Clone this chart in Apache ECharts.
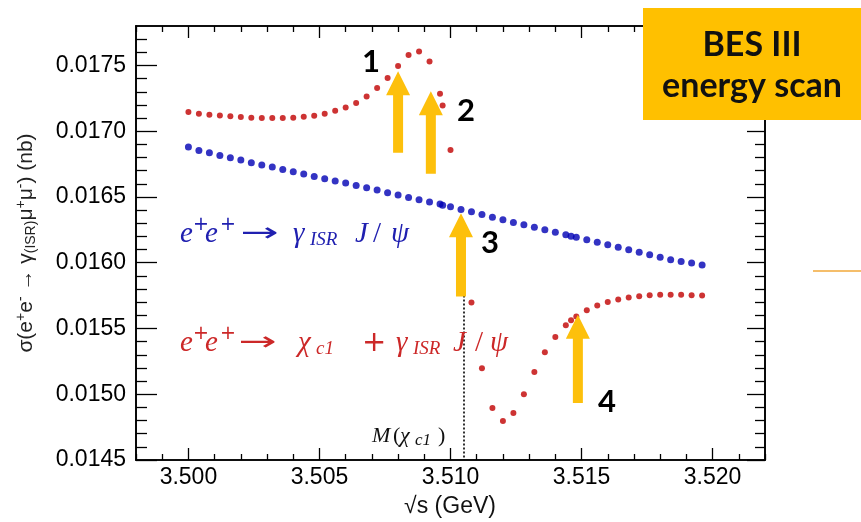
<!DOCTYPE html>
<html>
<head>
<meta charset="utf-8">
<script src="https://cdn.jsdelivr.net/npm/echarts@6/dist/echarts.min.js"></script>
<style>
  html, body { margin: 0; padding: 0; background: #fff; }
  #chart { width: 861px; height: 522px; }
</style>
</head>
<body>
<div id="chart"></div>
<script>
// sqrt(s) scan points (GeV) and cross sections (nb)
const isrEnergy = [
  3.5000, 3.5004, 3.5008, 3.5012, 3.5016, 3.5020, 3.5024, 3.5028, 3.5032, 3.5036,
  3.5040, 3.5044, 3.5048, 3.5052, 3.5056, 3.5060, 3.5064, 3.5068, 3.5072, 3.5076,
  3.5080, 3.5084, 3.5088, 3.5092, 3.5096, 3.5097, 3.5100, 3.5104, 3.5108, 3.5112,
  3.5116, 3.5120, 3.5124, 3.5128, 3.5132, 3.5136, 3.5140, 3.5144, 3.5146, 3.5148,
  3.5152, 3.5156, 3.5160, 3.5164, 3.5168, 3.5172, 3.5176, 3.5180, 3.5184, 3.5188,
  3.5192, 3.5196
];
const isrXsec = [
  0.016880, 0.016854, 0.016836, 0.016816, 0.016798, 0.016781, 0.016760, 0.016743, 0.016728, 0.016709,
  0.016692, 0.016674, 0.016656, 0.016639, 0.016621, 0.016606, 0.016588, 0.016570, 0.016553, 0.016532,
  0.016515, 0.016496, 0.016479, 0.016461, 0.016446, 0.016437, 0.016425, 0.016405, 0.016387, 0.016367,
  0.016345, 0.016326, 0.016306, 0.016288, 0.016269, 0.016250, 0.016231, 0.016212, 0.016201, 0.016193,
  0.016174, 0.016155, 0.016136, 0.016117, 0.016098, 0.016079, 0.016060, 0.016041, 0.016022, 0.016009,
  0.015997, 0.015982
];
const chiEnergy = [
  3.5000, 3.5004, 3.5008, 3.5012, 3.5016, 3.5020, 3.5024, 3.5028, 3.5032, 3.5036,
  3.5040, 3.5044, 3.5048, 3.5052, 3.5056, 3.5060, 3.5064, 3.5068, 3.5072, 3.5076,
  3.5080, 3.5084, 3.5088, 3.5092, 3.5096, 3.5097, 3.5100, 3.5108, 3.5112, 3.5116,
  3.5120, 3.5124, 3.5128, 3.5132, 3.5136, 3.5140, 3.5144, 3.5146, 3.5148, 3.5152,
  3.5156, 3.5160, 3.5164, 3.5168, 3.5172, 3.5176, 3.5180, 3.5184, 3.5188, 3.5192,
  3.5196
];
const chiXsec = [
  0.017146, 0.017133, 0.017126, 0.017120, 0.017113, 0.017108, 0.017103, 0.017100, 0.017100, 0.017100,
  0.017103, 0.017110, 0.017118, 0.017133, 0.017156, 0.017181, 0.017215, 0.017263, 0.017329, 0.017405,
  0.017496, 0.017580, 0.017607, 0.017531, 0.017285, 0.017196, 0.016857, 0.015697, 0.015198, 0.014896,
  0.014797, 0.014858, 0.015000, 0.015170, 0.015320, 0.015436, 0.015525, 0.015563, 0.015591, 0.015639,
  0.015674, 0.015702, 0.015720, 0.015735, 0.015746, 0.015753, 0.015756, 0.015756, 0.015756, 0.015753,
  0.015750
];

// axis ticks
const xMajorTicks = [3.500, 3.505, 3.510, 3.515, 3.520];
const xMinorTicks = [3.498, 3.499, 3.501, 3.502, 3.503, 3.504, 3.506, 3.507, 3.508, 3.509,
  3.511, 3.512, 3.513, 3.514, 3.516, 3.517, 3.518, 3.519, 3.521, 3.522];
const yMajorTicks = [0.0145, 0.0150, 0.0155, 0.0160, 0.0165, 0.0170, 0.0175];
const yMinorTicks = [0.0146, 0.0147, 0.0148, 0.0149, 0.0151, 0.0152, 0.0153, 0.0154,
  0.0156, 0.0157, 0.0158, 0.0159, 0.0161, 0.0162, 0.0163, 0.0164, 0.0166, 0.0167, 0.0168, 0.0169,
  0.0171, 0.0172, 0.0173, 0.0174, 0.0176, 0.0177];

// chi_c1 mass marker and scan-point arrows (energy, tip, tail)
const chiMass = 3.5105;
const chiMassLineTop = 0.01575;
const arrowEnergy = [3.5080, 3.50925, 3.5104, 3.51486];
const arrowTip = [0.017455, 0.017303, 0.016377, 0.015604];
const arrowTail = [0.016836, 0.016677, 0.015743, 0.014934];
const arrowNames = ['1', '2', '3', '4'];

const X_MIN = 3.498, X_MAX = 3.522, Y_MIN = 0.0145, Y_MAX = 0.0178;
const BLUE = '#0000b4', RED = '#c00000', GOLD = '#FFC000';
const AXIS_FONT = 'Liberation Sans, Arial, sans-serif';

function xAxisDef(position, ticks, len, withLabels) {
  return {
    type: 'value', min: X_MIN, max: X_MAX, position: position, offset: 0,
    axisLine: { show: true, onZero: false, lineStyle: { color: '#000', width: 1.6 } },
    axisTick: { show: true, inside: true, length: len, customValues: ticks,
      lineStyle: { color: '#000', width: 1.3 } },
    axisLabel: withLabels ? {
      show: true, customValues: xMajorTicks, margin: 6, color: '#000',
      fontFamily: AXIS_FONT, fontSize: 23, formatter: v => v.toFixed(3)
    } : { show: false },
    splitLine: { show: false }
  };
}
function yAxisDef(position, ticks, len, withLabels) {
  return {
    type: 'value', min: Y_MIN, max: Y_MAX, position: position, offset: 0,
    axisLine: { show: true, onZero: false, lineStyle: { color: '#000', width: 1.6 } },
    axisTick: { show: true, inside: true, length: len, customValues: ticks,
      lineStyle: { color: '#000', width: 1.3 } },
    axisLabel: withLabels ? {
      show: true, customValues: yMajorTicks, margin: 10, color: '#000',
      fontFamily: AXIS_FONT, fontSize: 23, formatter: v => v.toFixed(4)
    } : { show: false },
    splitLine: { show: false }
  };
}

const chart = echarts.init(document.getElementById('chart'), null, { renderer: 'canvas' });

chart.setOption({
  animation: false,
  backgroundColor: '#fff',
  grid: { left: 136, right: 96, top: 26, bottom: 62 },
  xAxis: [
    xAxisDef('bottom', xMajorTicks, 12, true),
    xAxisDef('bottom', xMinorTicks, 6, false),
    xAxisDef('top', xMajorTicks, 12, false),
    xAxisDef('top', xMinorTicks, 6, false)
  ],
  yAxis: [
    yAxisDef('left', yMajorTicks, 21, true),
    yAxisDef('left', yMinorTicks, 11, false),
    yAxisDef('right', yMajorTicks, 18, false),
    yAxisDef('right', yMinorTicks, 10, false)
  ],
  series: [
    {
      name: 'ISR J/psi', type: 'scatter', xAxisIndex: 0, yAxisIndex: 0,
      symbol: 'circle', symbolSize: 7, itemStyle: { color: BLUE },
      data: isrEnergy.map((e, i) => [e, isrXsec[i]])
    },
    {
      name: 'chi_c1 + ISR J/psi', type: 'scatter', xAxisIndex: 0, yAxisIndex: 0,
      symbol: 'circle', symbolSize: 6, itemStyle: { color: RED },
      data: chiEnergy.map((e, i) => [e, chiXsec[i]]),
      markLine: {
        silent: true, symbol: ['none', 'none'], label: { show: false },
        lineStyle: { type: [2, 2], color: '#000', width: 1.6 },
        data: [[{ coord: [chiMass, chiMassLineTop] }, { coord: [chiMass, Y_MIN] }]]
      }
    }
  ]
});

// ---- overlay annotations ----
function px(e, v) { return chart.convertToPixel({ xAxisIndex: 0, yAxisIndex: 0 }, [e, v]); }

function arrowShape(i) {
  const tip = px(arrowEnergy[i], arrowTip[i]);
  const tail = px(arrowEnergy[i], arrowTail[i]);
  const hw = 12, hh = 24, sw = 5;
  const x = tip[0], y = tip[1];
  return {
    type: 'polygon', z: 100,
    shape: { points: [[x, y], [x + hw, y + hh], [x + sw, y + hh], [x + sw, tail[1]],
      [x - sw, tail[1]], [x - sw, y + hh], [x - hw, y + hh]] },
    style: { fill: '#FDC00C' }
  };
}

// formula built from glyph pieces: [dx, text, kind]
const SERIF = 'Liberation Serif, serif';
function formula(x0, cy, color, size, subRatio, pieces) {
  const subSize = Math.round(size * subRatio);
  return pieces.map(p => {
    const kind = p[2];
    const el = {
      type: 'text', z: 100, x: x0 + p[0], y: cy,
      style: { text: p[1], fill: color, align: 'left', verticalAlign: 'middle',
        fontFamily: SERIF, fontStyle: 'italic', fontSize: size }
    };
    if (kind === 'sup') {
      el.y = cy - size * 0.32; el.style.fontSize = subSize; el.style.fontStyle = 'normal';
      el.style.fontFamily = 'DejaVu Sans, sans-serif';
    }
    if (kind === 'sub') { el.y = cy + size * 0.21; el.style.fontSize = subSize; }
    if (kind === 'up') { el.style.fontStyle = 'normal'; }
    if (kind === 'op') { el.style.fontStyle = 'normal'; el.style.fontFamily = 'DejaVu Sans, sans-serif'; }
    if (kind === 'arrow') {
      el.style.fontStyle = 'normal'; el.style.fontFamily = 'DejaVu Sans, sans-serif';
      el.style.fontSize = size * 0.9;
      el.scaleX = 1.75; el.originX = 0; el.originY = 0;
    }
    return el;
  });
}

const graphics = [];
for (let i = 0; i < arrowEnergy.length; i++) graphics.push(arrowShape(i));

const numberPos = [[371, 62], [466, 111], [490, 243], [607, 402]];
arrowNames.forEach((n, i) => graphics.push({
  type: 'text', z: 101, x: numberPos[i][0], y: numberPos[i][1],
  style: { text: n, fill: '#000', align: 'center', verticalAlign: 'middle',
    fontFamily: 'Lato, sans-serif', fontWeight: 'bold', fontSize: 31 }
}));

// reaction labels
graphics.push(...formula(180, 234, '#2020b0', 29, 0.66, [
  [0, 'e'], [13, '+', 'sup'], [25, 'e'], [40, '+', 'sup'], [60, '\u2192', 'arrow'],
  [113, '\u03b3'], [130, 'ISR', 'sub'], [175, 'J'], [193, '/', 'up'], [211, '\u03c8']
]));
graphics.push(...formula(180, 343, '#cc2828', 29, 0.66, [
  [0, 'e'], [13, '+', 'sup'], [25, 'e'], [40, '+', 'sup'], [58, '\u2192', 'arrow'],
  [118, '\u03c7'], [136, 'c1', 'sub'], [182, '+', 'op'], [216, '\u03b3'], [233, 'ISR', 'sub'],
  [273, 'J'], [295, '/', 'up'], [310, '\u03c8']
]));
graphics.push(...formula(372, 436, '#111', 22, 0.75, [
  [0, 'M'], [21, '(', 'up'], [28, '\u03c7'], [43, 'c1', 'sub'], [66, ')', 'up']
]));

// axis titles
graphics.push({
  type: 'text', z: 100, x: 450, y: 507,
  style: { text: '\u221As (GeV)', fill: '#111', align: 'center', verticalAlign: 'middle',
    fontFamily: AXIS_FONT, fontSize: 23 }
});
graphics.push({
  type: 'text', z: 100, x: 26, y: 243, rotation: Math.PI / 2,
  style: {
    text: '\u03c3(e{sup|+}e{sup|-} \u2192 \u03b3{sub|(ISR)}\u03bc{sup|+}\u03bc{sup|-}) (nb)',
    fill: '#222', align: 'center', verticalAlign: 'middle',
    fontFamily: AXIS_FONT, fontSize: 21,
    rich: {
      sup: { fontFamily: AXIS_FONT, fontSize: 14, fill: '#222', padding: [0, 0, 10, 0] },
      sub: { fontFamily: AXIS_FONT, fontSize: 14, fill: '#222', padding: [10, 0, 0, 0] }
    }
  }
});

// BES III badge and side line
graphics.push({ type: 'rect', z: 110, shape: { x: 643, y: 8, width: 218, height: 112 }, style: { fill: GOLD } });
graphics.push({
  type: 'text', z: 111, x: 752, y: 45,
  style: { text: 'BES III', fill: '#111', align: 'center', verticalAlign: 'middle',
    fontFamily: 'Lato, sans-serif', fontWeight: 'bold', fontSize: 34 }
});
graphics.push({
  type: 'text', z: 111, x: 752, y: 86,
  style: { text: 'energy scan', fill: '#111', align: 'center', verticalAlign: 'middle',
    fontFamily: 'Lato, sans-serif', fontWeight: 'bold', fontSize: 34 }
});
graphics.push({ type: 'line', z: 100, shape: { x1: 813, y1: 271, x2: 861, y2: 271 },
  style: { stroke: '#F2A83A', lineWidth: 1.5 } });

chart.setOption({ graphic: graphics });
</script>
</body>
</html>
